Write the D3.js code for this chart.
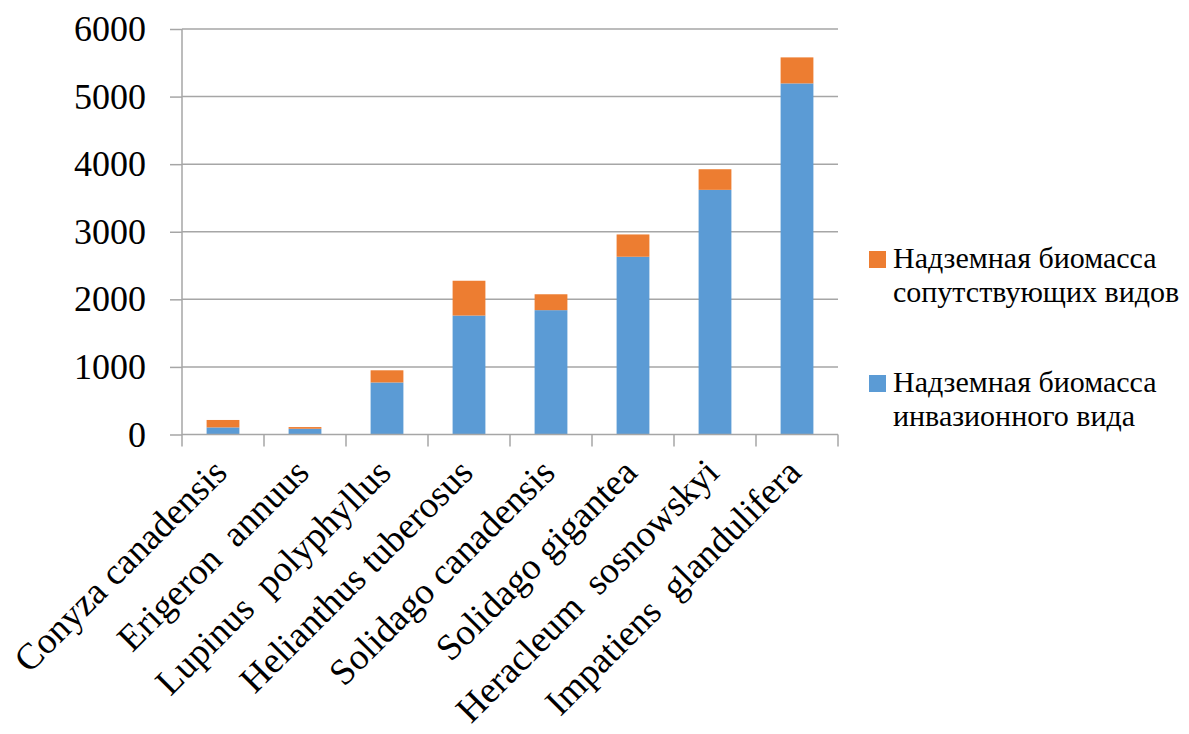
<!DOCTYPE html>
<html>
<head>
<meta charset="utf-8">
<script src="https://cdn.jsdelivr.net/npm/d3@7"></script>
<style>
  html, body { margin: 0; padding: 0; background: #fff; }
  svg { display: block; }
  svg text { font-family: "Liberation Serif", "Times New Roman", serif; fill: #000; }
</style>
</head>
<body>
<svg id="chart" width="1189" height="734"></svg>
<script>
// Species (x categories)
const species = [
  "Conyza canadensis",
  "Erigeron  annuus",
  "Lupinus  polyphyllus",
  "Helianthus tuberosus",
  "Solidago canadensis",
  "Solidago gigantea",
  "Heracleum  sosnowskyi",
  "Impatiens  glandulifera"
];
// Aboveground biomass of the invasive species
const invasive = [105, 85, 770, 1760, 1840, 2630, 3620, 5195];
// Aboveground biomass of the accompanying species
const accompanying = [110, 25, 180, 515, 235, 330, 305, 385];
const yTicks = [0, 1000, 2000, 3000, 4000, 5000, 6000];
const seriesNames = [
  ["Надземная биомасса", "сопутствующих видов"],
  ["Надземная биомасса", "инвазионного вида"]
];
const colors = { invasive: "#5B9BD5", accompanying: "#ED7D31" };
const SERIF = '"Liberation Serif", "Times New Roman", serif';

const svg = d3.select("#chart");
const plot = { left: 182, right: 838, top: 29, bottom: 434.5 };

const x = d3.scaleBand()
  .domain(species)
  .range([plot.left, plot.right])
  .paddingInner(0.6)
  .paddingOuter(0.3);

const y = d3.scaleLinear()
  .domain([0, 6000])
  .range([plot.bottom, plot.top]);

// Horizontal gridlines
svg.append("g")
  .selectAll("line")
  .data(yTicks.filter(d => d > 0))
  .join("line")
  .attr("x1", plot.left)
  .attr("x2", plot.right)
  .attr("y1", d => y(d))
  .attr("y2", d => y(d))
  .attr("stroke", "#a6a6a6")
  .attr("stroke-width", 1.5);

// Stacked bars
const rows = species.map((s, i) => ({ s, inv: invasive[i], acc: accompanying[i] }));
const stack = d3.stack().keys(["inv", "acc"])(rows);
const fillFor = { inv: colors.invasive, acc: colors.accompanying };

svg.append("g")
  .selectAll("g")
  .data(stack)
  .join("g")
  .attr("fill", d => fillFor[d.key])
  .selectAll("rect")
  .data(d => d)
  .join("rect")
  .attr("x", d => x(d.data.s))
  .attr("width", x.bandwidth())
  .attr("y", d => y(d[1]))
  .attr("height", d => y(d[0]) - y(d[1]));

// Y axis
const yAxis = d3.axisLeft(y)
  .tickValues(yTicks)
  .tickSize(12)
  .tickPadding(24)
  .tickFormat(d3.format("d"));

const gy = svg.append("g")
  .attr("transform", `translate(${plot.left},0)`)
  .call(yAxis);
gy.attr("font-family", null).attr("font-size", null);
gy.select(".domain").remove();
gy.selectAll(".tick line").attr("stroke", "#a6a6a6").attr("stroke-width", 1.5);
gy.selectAll(".tick text")
  .style("font-family", SERIF)
  .style("font-size", "36px")
  .attr("fill", "#000");
gy.append("line")
  .attr("x1", 0).attr("x2", 0)
  .attr("y1", plot.top).attr("y2", plot.bottom + 12)
  .attr("stroke", "#a6a6a6").attr("stroke-width", 1.5);

// X axis baseline and category boundary ticks
const gx = svg.append("g");
gx.append("line")
  .attr("x1", plot.left).attr("x2", plot.right)
  .attr("y1", plot.bottom).attr("y2", plot.bottom)
  .attr("stroke", "#a6a6a6").attr("stroke-width", 1.5);
const boundaries = species.slice(1).map(s => x(s) - x.step() * x.paddingInner() / 2)
  .concat([plot.right]);
gx.selectAll("line.tk")
  .data(boundaries)
  .join("line")
  .attr("class", "tk")
  .attr("x1", d => d).attr("x2", d => d)
  .attr("y1", plot.bottom).attr("y2", plot.bottom + 12)
  .attr("stroke", "#a6a6a6").attr("stroke-width", 1.5);

// Rotated category labels
gx.selectAll("text")
  .data(species)
  .join("text")
  .attr("transform", d => `translate(${x(d) + x.bandwidth() / 2 + 6},${plot.bottom + 40}) rotate(-45)`)
  .attr("text-anchor", "end")
  .style("font-family", SERIF)
  .style("font-size", "37px")
  .style("white-space", "pre")
  .text(d => d);

// Legend
const legend = svg.append("g");
const legendItems = [
  { color: colors.accompanying, lines: seriesNames[0], top: 251 },
  { color: colors.invasive, lines: seriesNames[1], top: 375 }
];
legendItems.forEach(item => {
  legend.append("rect")
    .attr("x", 869).attr("y", item.top)
    .attr("width", 17).attr("height", 17)
    .attr("fill", item.color);
  item.lines.forEach((line, j) => {
    legend.append("text")
      .attr("x", 893)
      .attr("y", item.top + 17 + j * 34)
      .style("font-family", SERIF)
      .style("font-size", "30px")
      .text(line);
  });
});
</script>
</body>
</html>
